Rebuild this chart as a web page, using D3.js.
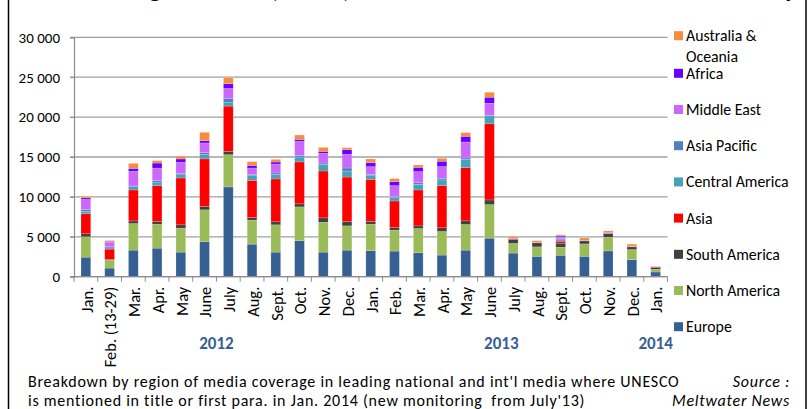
<!DOCTYPE html>
<html>
<head>
<meta charset="utf-8">
<script src="https://cdn.jsdelivr.net/npm/d3@7"></script>
<style>
  html, body { margin: 0; padding: 0; background: #fff; }
  svg { display: block; font-family: Calibri, Carlito, Lato, sans-serif; }
</style>
</head>
<body>
<svg id="chart" width="811" height="409"></svg>
<script>
// ---------- data ----------
const categories = ["Jan.","Feb. (13-29)","Mar.","Apr.","May","June","July","Aug.","Sept.","Oct.","Nov.","Dec.",
                    "Jan.","Feb.","Mar.","Apr.","May","June","July","Aug.","Sept.","Oct.","Nov.","Dec.","Jan."];
const years = ["2012","2012","2012","2012","2012","2012","2012","2012","2012","2012","2012","2012",
               "2013","2013","2013","2013","2013","2013","2013","2013","2013","2013","2013","2013","2014"];
const seriesNames = ["Europe","North America","South America","Asia","Central America","Asia Pacific","Middle East","Africa","Australia & Oceania"];
const europe       = [2450,1080,3330,3580,3080,4380,11250,4080,3080,4500,3080,3330,3250,3210,3000,2710,3330,4830,2960,2560,2690,2560,3230,2140,590];
const northAmerica = [2550,1000,3330,3000,3000,4000,4040,3000,3420,4250,3750,3040,3330,2620,3040,2960,3210,4210,1210,1180,1010,1550,1720,1260,340];
const southAmerica = [380,80,330,330,420,420,420,330,380,380,540,540,330,330,330,460,460,580,500,500,500,380,460,340,210];
const asia         = [2500,1300,3880,4500,5870,5960,5670,4670,5370,5250,5875,5580,5290,3330,4500,5290,6670,9540,80,60,250,40,40,40,80];
const centralAmerica = [300,150,400,450,400,550,500,580,580,620,830,750,460,420,710,710,1040,1000,0,0,170,0,0,0,0];
const asiaPacific  = [250,140,100,170,180,240,420,170,170,170,170,380,170,170,210,210,170,80,0,0,120,0,0,0,0];
const middleEast   = [1250,580,1830,1580,1380,1210,1290,790,1120,1790,1210,1710,960,1330,1375,1460,2000,1500,40,30,250,30,80,30,40];
const africa       = [200,90,380,630,420,290,580,330,250,250,250,580,500,500,540,670,710,750,30,0,120,0,40,0,0];
const australia    = [200,120,620,300,370,1040,790,460,330,540,500,250,460,380,290,375,460,625,210,180,140,300,170,270,40];
const yTicks = [0,5000,10000,15000,20000,25000,30000];
// title is cut off at the top edge in the reference: only descenders show
const titlePieces = [["Monitoring", 162], ["2012, 2013,", 350], ["and 2014 total monthly", 797]];
const captionLines = ["Breakdown by region of media coverage in leading national and int'l media where UNESCO",
                      "is mentioned in title or first para. in Jan. 2014 (new monitoring  from July'13)"];
const sourceLines = ["Source :", "Meltwater News"];

const seriesValues = [europe, northAmerica, southAmerica, asia, centralAmerica, asiaPacific, middleEast, africa, australia];
const colors = ["#376092","#9BBB59","#404040","#FF0000","#46A2B9","#4F81BD","#CC66FF","#6600FF","#F88B3C"];

// ---------- build table ----------
const table = categories.map((c, i) => {
  const row = { idx: i, cat: c, year: years[i] };
  seriesNames.forEach((s, k) => row[s] = seriesValues[k][i]);
  return row;
});
const stacked = d3.stack().keys(seriesNames)(table);

// ---------- layout ----------
const svg = d3.select("#chart");
const plotL = 74, plotR = 667.5, plotT = 37.3, plotB = 276.7;

const x = d3.scaleBand().domain(d3.range(categories.length)).range([plotL, plotR]).padding(0);
const y = d3.scaleLinear().domain([0, 30000]).range([plotB, plotT]);
const color = d3.scaleOrdinal().domain(seriesNames).range(colors);
const barW = x.bandwidth() * 0.41;

// frame
svg.append("rect").attr("x", 8.5).attr("y", -5).attr("width", 797.5).attr("height", 430)
  .attr("fill", "none").attr("stroke", "#000").attr("stroke-width", 1.5);

// clipped title
svg.append("g").selectAll("text").data(titlePieces).join("text")
  .attr("x", d => d[1]).attr("y", -3).attr("text-anchor", "end")
  .attr("font-size", 28).attr("font-weight", "bold").attr("fill", "#000").text(d => d[0]);

// gridlines
svg.append("g").selectAll("line").data(yTicks).join("line")
  .attr("x1", plotL - 4).attr("x2", plotR)
  .attr("y1", d => y(d)).attr("y2", d => y(d))
  .attr("stroke", "#A0A0A0").attr("stroke-width", 1.3);

// y axis
const fmt = d3.formatLocale({ decimal: ".", thousands: " ", grouping: [3], currency: ["", ""] }).format(",d");
const yAxis = svg.append("g").attr("transform", `translate(${plotL},0)`)
  .call(d3.axisLeft(y).tickValues(yTicks).tickFormat(fmt).tickSize(4).tickPadding(10));
yAxis.select(".domain").attr("stroke", "#8C8C8C").attr("stroke-width", 1.2);
yAxis.selectAll(".tick line").attr("stroke", "#8C8C8C");
yAxis.selectAll(".tick text").attr("font-size", 15).attr("fill", "#000")
  .attr("font-family", "Calibri, Carlito, Lato, sans-serif");

// bars
svg.append("g").selectAll("g").data(stacked).join("g")
  .attr("fill", d => color(d.key))
  .selectAll("rect").data(d => d).join("rect")
  .attr("x", (d, i) => x(i) + (x.bandwidth() - barW) / 2)
  .attr("width", barW)
  .attr("y", d => y(d[1]))
  .attr("height", d => Math.max(0, y(d[0]) - y(d[1])))
  .attr("stroke", "rgba(255,255,255,0.35)").attr("stroke-width", 0.5);

// x axis
const xAxis = svg.append("g").attr("transform", `translate(0,${plotB})`);
xAxis.append("line").attr("x1", plotL).attr("x2", plotR).attr("stroke", "#8C8C8C").attr("stroke-width", 1.2);
xAxis.selectAll("line.tk").data(d3.range(categories.length + 1)).join("line").attr("class", "tk")
  .attr("x1", i => i < categories.length ? x(i) : plotR).attr("x2", i => i < categories.length ? x(i) : plotR)
  .attr("y1", 0).attr("y2", 5).attr("stroke", "#8C8C8C");
svg.append("g").selectAll("text").data(categories).join("text")
  .attr("transform", (d, i) => `translate(${x(i) + x.bandwidth() / 2 + 1},${plotB + 10}) rotate(-90)`)
  .attr("text-anchor", "end").attr("dy", "0.35em")
  .attr("font-size", 16.5).attr("fill", "#000").text(d => d);

// year labels
const yearGroups = d3.groups(table, d => d.year);
svg.append("g").selectAll("text").data(yearGroups).join("text")
  .attr("x", g => d3.mean(g[1], r => x(r.idx) + x.bandwidth() / 2))
  .attr("y", 349).attr("text-anchor", "middle")
  .attr("font-size", 17).attr("font-weight", "bold").attr("fill", "#376092")
  .text(g => g[0]);

// legend
const legendOrder = seriesNames.slice().reverse();
const ly = d3.scaleLinear().domain([1, 8]).range([73.3, 326.7]);
const leg = svg.append("g").selectAll("g").data(legendOrder).join("g")
  .attr("transform", (d, i) => `translate(674,${i === 0 ? 35.7 : ly(i)})`);
leg.append("rect").attr("x", 0).attr("y", -4.5).attr("width", 9).attr("height", 9).attr("fill", d => color(d));
leg.append("text").attr("x", 12).attr("dy", "0.35em").attr("font-size", 15.8).attr("fill", "#000")
  .each(function(d) {
    const t = d3.select(this);
    if (d === "Australia & Oceania") {
      t.append("tspan").attr("x", 12).text("Australia &");
      t.append("tspan").attr("x", 12).attr("dy", 20.3).text("Oceania");
    } else {
      t.text(d);
    }
  });

// caption
svg.append("g").selectAll("text").data(captionLines).join("text")
  .attr("x", 28).attr("y", (d, i) => 386.5 + i * 19.3)
  .attr("font-size", 16).attr("letter-spacing", 0.75).attr("fill", "#000")
  .style("white-space", "pre").text(d => d);
svg.append("g").selectAll("text").data(sourceLines).join("text")
  .attr("x", 790).attr("y", (d, i) => 386.5 + i * 19.3).attr("text-anchor", "end")
  .attr("font-size", 16).attr("letter-spacing", 0.75).attr("font-style", "italic")
  .attr("fill", "#000").text(d => d);
</script>
</body>
</html>
